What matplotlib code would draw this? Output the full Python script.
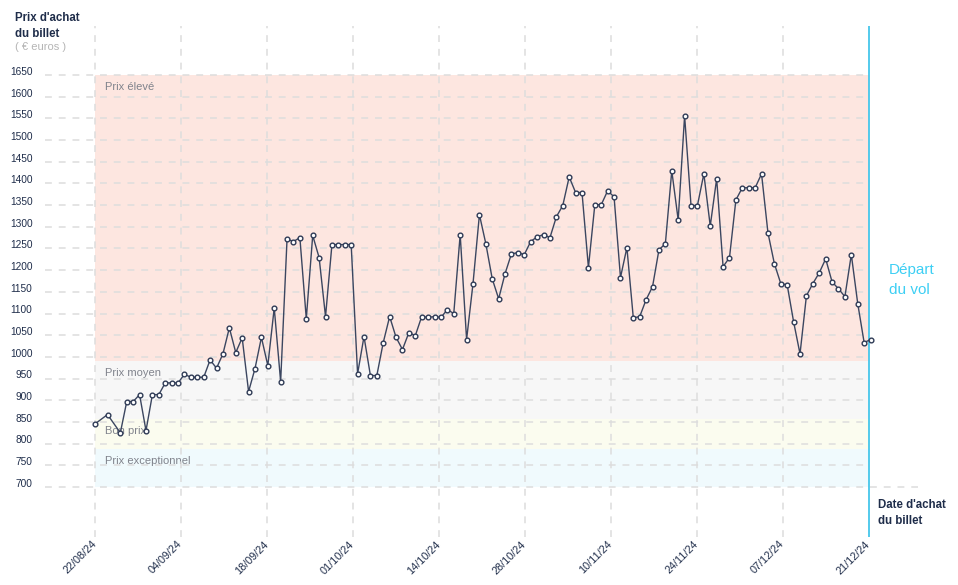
import matplotlib.pyplot as plt
import matplotlib.transforms as mtransforms
import numpy as np
import pandas as pd

plt.rcParams['font.family'] = ['Liberation Sans', 'DejaVu Sans']

# jours de relevé (pas de relevé le 23/08 et le 25/08)
dates = pd.date_range('2024-08-22', '2024-12-21').drop(pd.to_datetime(['2024-08-23', '2024-08-25']))
prix = [845, 867, 825, 897, 897, 913, 830, 913, 913, 940,
        940, 940, 960, 953, 953, 953, 993, 974, 1007, 1067,
        1010, 1044, 920, 973, 1045, 980, 1113, 943, 1272, 1266,
        1275, 1088, 1280, 1229, 1093, 1259, 1259, 1259, 1259, 961,
        1047, 957, 957, 1033, 1093, 1045, 1017, 1056, 1049, 1093,
        1091, 1093, 1091, 1109, 1100, 1282, 1040, 1169, 1328, 1261,
        1180, 1134, 1192, 1238, 1240, 1236, 1266, 1277, 1282, 1275,
        1323, 1349, 1415, 1379, 1379, 1206, 1351, 1351, 1383, 1369,
        1183, 1252, 1090, 1093, 1132, 1162, 1247, 1261, 1429, 1316,
        1556, 1349, 1349, 1422, 1302, 1411, 1208, 1229, 1362, 1390,
        1390, 1390, 1422, 1286, 1215, 1169, 1166, 1081, 1007, 1141,
        1169, 1194, 1226, 1173, 1157, 1139, 1236, 1123, 1033, 1040]

tick_labels = ['22/08/24', '04/09/24', '18/09/24', '01/10/24', '14/10/24',
               '28/10/24', '10/11/24', '24/11/24', '07/12/24', '21/12/24']
y_ticks = list(range(700, 1651, 50))

# zones de prix (bas, haut, couleur, libellé)
zones = [
    (990, 1650, '#fde6e0', 'Prix élevé'),
    (857, 990, '#f7f7f7', 'Prix moyen'),
    (788, 857, '#fbfcef', 'Bon prix'),
    (700, 788, '#f0fafd', 'Prix exceptionnel'),
]

W, H = 958, 585
fig = plt.figure(figsize=(W / 100, H / 100), dpi=100)
ax = fig.add_axes([45 / W, (H - 537) / H, (918 - 45) / W, (537 - 26) / H])

x = (dates - dates[0]).days.values
x_end = 120.7
x_ticks = np.linspace(0, x_end, len(tick_labels))

ax.set_xlim(-7.75, 128.4)
ax.set_ylim(584.7, 1763)

for lo, hi, col, lab in zones:
    ax.fill_between([0, x_end], lo, hi, color=col, lw=0, zorder=0)
    ax.text(1.6, hi - 28, lab, color='#80838c', fontsize=8, va='center', ha='left', zorder=1)

# grille
for v in y_ticks:
    xe = 128.4 if v == 700 else x_end
    ax.plot([-7.75, xe], [v, v], color='#dddddd', lw=1.1, ls=(0, (4.5, 4.5)), zorder=1)
for xt in x_ticks[:-1]:
    ax.axvline(xt, color='#dddddd', lw=1.1, ls=(0, (4.5, 4.5)), zorder=1)
ax.axvline(x_end, color='#45c6ea', lw=1.3, zorder=3)

ax.plot(x, prix, color='#3b4660', lw=1, marker='o', ms=3.4, mfc='white',
        mec='#2e3a55', mew=1.0, zorder=4)

ax.set_xticks(x_ticks)
ax.set_xticklabels(tick_labels, rotation=45, ha='right', va='center',
                   rotation_mode='anchor', fontsize=7.8, color='#1f2d4a')
ax.set_yticks(y_ticks)
ax.set_yticklabels([str(v) for v in y_ticks], fontsize=7.3, color='#1f2d4a')
ax.tick_params(axis='x', length=0, pad=4)
ax.tick_params(axis='y', length=0, pad=9)
off = mtransforms.ScaledTranslation(0, 3 / 72, fig.dpi_scale_trans)
for lbl in ax.get_yticklabels():
    lbl.set_transform(lbl.get_transform() + off)
for s in ax.spines.values():
    s.set_visible(False)

def fx(px):
    return px / W

def fy(py):
    return 1 - py / H

fig.text(fx(15), fy(18), "Prix d'achat", fontsize=8.3, fontweight='bold', color='#1f2d4a', va='center')
fig.text(fx(15), fy(34), "du billet", fontsize=8.3, fontweight='bold', color='#1f2d4a', va='center')
fig.text(fx(15), fy(47), "( € euros )", fontsize=8, color='#b5b5b5', va='center')
fig.text(fx(878), fy(505), "Date d'achat", fontsize=8.3, fontweight='bold', color='#1f2d4a', va='center')
fig.text(fx(878), fy(521), "du billet", fontsize=8.3, fontweight='bold', color='#1f2d4a', va='center')
fig.text(fx(889), fy(270), "Départ", fontsize=11, color='#3dcff4', va='center')
fig.text(fx(889), fy(290), "du vol", fontsize=11, color='#3dcff4', va='center')

fig.savefig('out.png', dpi=100)
